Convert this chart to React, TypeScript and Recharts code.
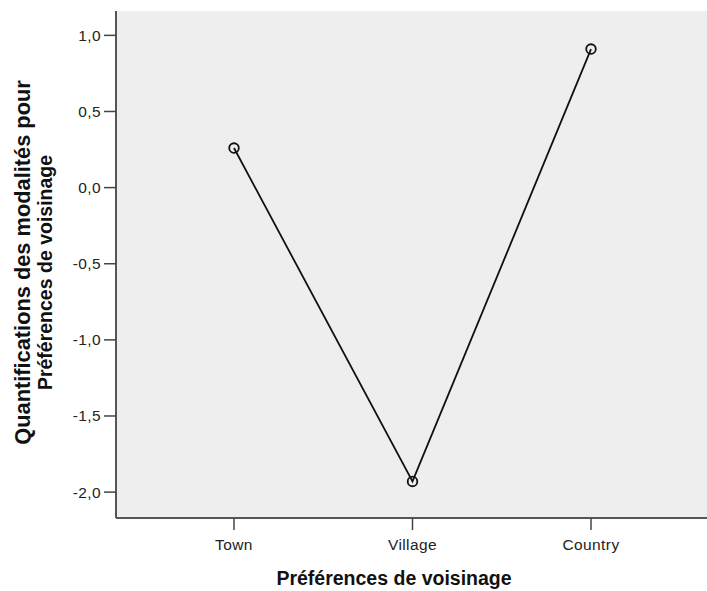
import React from 'react';
import { LineChart, Line, XAxis, YAxis, CartesianGrid } from 'recharts';

const categories = ['Town', 'Village', 'Country'];
const quantifications = [0.26, -1.93, 0.91];
const yTicks = [-2, -1.5, -1, -0.5, 0, 0.5, 1];
const xTitle = 'Préférences de voisinage';
const yTitleLine1 = 'Quantifications des modalités pour';
const yTitleLine2 = 'Préférences de voisinage';

const data = categories.map((c, i) => ({ cat: c, value: quantifications[i] }));

const FONT = '"Liberation Sans", Arial, sans-serif';

const fmt = (v: number) => v.toFixed(1).replace('.', ',');

const Dot = (props: any) => {
  const { cx, cy } = props;
  if (cx == null || cy == null) return null;
  return <circle cx={cx} cy={cy} r={4.8} fill="none" stroke="#111" strokeWidth={1.8} />;
};

export default function App() {
  return (
    <div style={{ position: 'absolute', left: 0, top: 0, width: 707, height: 591, background: '#fff' }}>
      <LineChart width={707} height={591} data={data} margin={{ top: 11, right: 0, bottom: 0, left: 0 }}>
        <CartesianGrid horizontal={false} vertical={false} fill="#eeeeee" />
        <XAxis
          xAxisId="top"
          orientation="top"
          dataKey="cat"
          height={0}
          tick={false}
          tickLine={false}
          axisLine={{ stroke: '#8a8a8a', strokeWidth: 1.5 }}
          padding={{ left: 118, right: 116 }}
        />
        <XAxis
          dataKey="cat"
          height={73}
          padding={{ left: 118, right: 116 }}
          tickSize={12}
          tickMargin={9}
          axisLine={{ stroke: '#555', strokeWidth: 2 }}
          tickLine={{ stroke: '#444', strokeWidth: 1.5 }}
          tick={{ fill: '#222', fontSize: 15.5, fontFamily: FONT, letterSpacing: 0.4 }}
          label={{
            content: () => (
              <text x={394} y={578} textAnchor="middle" dominantBaseline="central" fontFamily={FONT} fontWeight="bold" fontSize={19.5} fill="#111">
                {xTitle}
              </text>
            ),
          }}
        />
        <YAxis
          type="number"
          domain={[-2.17, 1.16]}
          ticks={yTicks}
          width={116}
          tickFormatter={fmt}
          tickSize={12}
          tickMargin={3}
          axisLine={{ stroke: '#555', strokeWidth: 2 }}
          tickLine={{ stroke: '#444', strokeWidth: 1.5 }}
          tick={{ fill: '#222', fontSize: 15.5, fontFamily: FONT, letterSpacing: 0.4 }}
          label={{
            content: () => (
              <g>
                <text
                  x={22}
                  y={262.5}
                  transform="rotate(-90 22 262.5)"
                  textAnchor="middle"
                  dominantBaseline="central"
                  fontFamily={FONT}
                  fontWeight="bold"
                  fontSize={21.8}
                  fill="#111"
                >
                  {yTitleLine1}
                </text>
                <text
                  x={45}
                  y={272.5}
                  transform="rotate(-90 45 272.5)"
                  textAnchor="middle"
                  dominantBaseline="central"
                  fontFamily={FONT}
                  fontWeight="bold"
                  fontSize={19.5}
                  fill="#111"
                >
                  {yTitleLine2}
                </text>
              </g>
            ),
          }}
        />
        <Line
          type="linear"
          dataKey="value"
          stroke="#111"
          strokeWidth={1.8}
          dot={<Dot />}
          activeDot={false}
          isAnimationActive={false}
        />
      </LineChart>
    </div>
  );
}
